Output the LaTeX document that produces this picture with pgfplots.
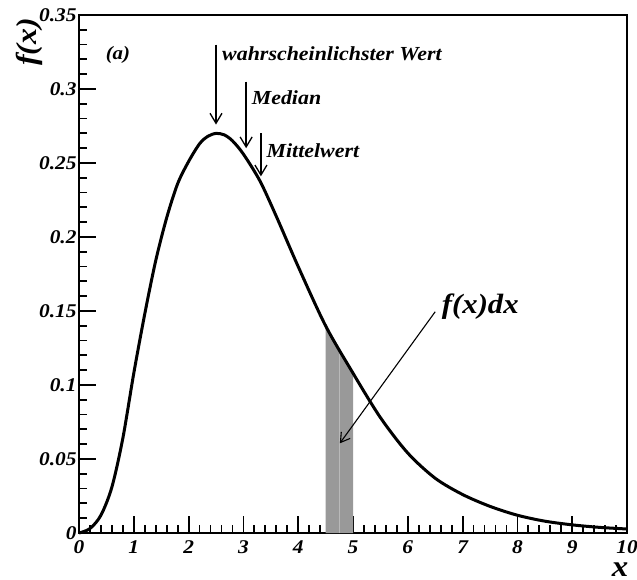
\documentclass[border=0pt]{standalone}
\usepackage{fontspec}
\setmainfont{Liberation Serif}[FakeStretch=1.1]
\usepackage{pgfplots}
\usepackage{pgfplotstable}
\pgfplotsset{compat=1.18}
\usetikzlibrary{arrows.meta}

\pgfplotstableread{
x y
0.0 0.0
0.2 0.003
0.4 0.012
0.6 0.031
0.8 0.064
1.0 0.108
1.2 0.148
1.4 0.184
1.6 0.213
1.8 0.236
2.0 0.251
2.2 0.263
2.35 0.268
2.5 0.270
2.65 0.269
2.8 0.265
3.0 0.256
3.3 0.238
3.6 0.214
4.0 0.180
4.5 0.140
5.0 0.108
5.5 0.078
6.0 0.054
6.5 0.037
7.0 0.026
7.5 0.018
8.0 0.012
8.5 0.008
9.0 0.0055
9.5 0.0038
10.0 0.0027
}\curve

\definecolor{band}{RGB}{153,153,153}
\definecolor{bandline}{RGB}{185,185,185}

\begin{document}
\begin{tikzpicture}
\path[use as bounding box] (-79bp,-47bp) rectangle (558bp,533bp);
\begin{axis}[
  at={(0,0)}, anchor=south west,
  scale only axis, width=548bp, height=518bp,
  xmin=0, xmax=10, ymin=0, ymax=0.35,
  axis line style={line width=2.2bp},
  xtick={0,1,2,3,4,5,6,7,8,9,10},
  minor x tick num=4,
  ytick={0,0.05,0.1,0.15,0.2,0.25,0.3,0.35},
  yticklabels={0,0.05,0.1,0.15,0.2,0.25,0.3,0.35},
  minor y tick num=4,
  tick align=inside, xtick pos=bottom, ytick pos=left,
  major tick length=17bp, minor tick length=8bp,
  every tick/.style={black, line width=1.8bp},
  /pgf/number format/assume math mode=true,
  ticklabel style={font=\fontsize{19.5}{19.5}\selectfont\bfseries\itshape},
  xticklabel style={yshift=-4bp},
  yticklabel style={xshift=1bp},
  clip=false,
]
\addplot[fill=band, draw=none] coordinates {(4.5,0.140) (4.75,0.123) (5.0,0.108)} \closedcycle;
\addplot[bandline, line width=1bp] coordinates {(4.75,0) (4.75,0.123)};
\addplot[black, line width=3bp, smooth] table {\curve};

\node[inner sep=0pt, font=\fontsize{19}{19}\selectfont\bfseries\itshape] at (axis cs:0.71,0.323) {(a)};

\draw[line width=1.3bp, -{Straight Barb[length=10bp,width=12bp,line width=1.3bp]}] (axis cs:2.5,0.330) -- (axis cs:2.5,0.276);
\node[anchor=west, inner sep=0pt, font=\fontsize{20}{20}\selectfont\bfseries\itshape] at (axis cs:2.61,0.324) {wahrscheinlichster Wert};

\draw[line width=1.3bp, -{Straight Barb[length=10bp,width=12bp,line width=1.3bp]}] (axis cs:3.05,0.305) -- (axis cs:3.05,0.260);
\node[anchor=west, inner sep=0pt, font=\fontsize{20}{20}\selectfont\bfseries\itshape] at (axis cs:3.15,0.294) {Median};

\draw[line width=1.3bp, -{Straight Barb[length=10bp,width=12bp,line width=1.3bp]}] (axis cs:3.32,0.270) -- (axis cs:3.32,0.241);
\node[anchor=west, inner sep=0pt, font=\fontsize{20}{20}\selectfont\bfseries\itshape] at (axis cs:3.42,0.258) {Mittelwert};

\draw[line width=1.1bp, -{Straight Barb[length=9bp,width=11bp,line width=1.1bp]}] (axis cs:6.50,0.1495) -- (axis cs:4.76,0.0606);
\node[anchor=west, inner sep=0pt, font=\fontsize{28}{28}\selectfont\bfseries\itshape] at (axis cs:6.62,0.153) {f(x)dx};
\end{axis}
\node[rotate=90, inner sep=0pt, font=\fontsize{29}{29}\selectfont\bfseries\itshape] at (-50bp,491bp) {f(x)};
\node[inner sep=0pt, font=\fontsize{30}{30}\selectfont\bfseries\itshape] at (541bp,-37bp) {x};
\end{tikzpicture}
\end{document}
